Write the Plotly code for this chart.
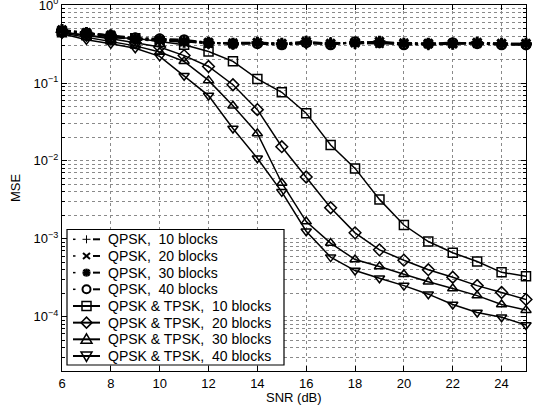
import plotly.graph_objects as go

snr = list(range(6, 26))

qpsk_10 = [0.47, 0.43, 0.40, 0.36, 0.35, 0.34, 0.33, 0.32, 0.33, 0.32, 0.32, 0.33, 0.32, 0.33, 0.32, 0.31, 0.32, 0.33, 0.32, 0.31]
qpsk_20 = [0.48, 0.44, 0.40, 0.37, 0.36, 0.35, 0.32, 0.33, 0.33, 0.31, 0.33, 0.32, 0.33, 0.32, 0.33, 0.32, 0.32, 0.32, 0.32, 0.32]
qpsk_30 = [0.48, 0.44, 0.41, 0.37, 0.36, 0.34, 0.33, 0.32, 0.33, 0.32, 0.34, 0.32, 0.33, 0.34, 0.32, 0.32, 0.32, 0.33, 0.32, 0.32]
qpsk_40 = [0.47, 0.44, 0.41, 0.38, 0.37, 0.36, 0.33, 0.32, 0.32, 0.31, 0.33, 0.31, 0.34, 0.33, 0.31, 0.32, 0.33, 0.32, 0.31, 0.31]

qt_10 = [0.45, 0.41, 0.38, 0.375, 0.34, 0.31, 0.254, 0.19, 0.113, 0.076, 0.041, 0.016, 0.008, 0.0032, 0.0015, 0.00092, 0.00066, 0.00051, 0.00037, 0.00033]
qt_20 = [0.45, 0.41, 0.37, 0.33, 0.29, 0.225, 0.163, 0.095, 0.0455, 0.0152, 0.0062, 0.0025, 0.00119, 0.00072, 0.00053, 0.00040, 0.00032, 0.00025, 0.000204, 0.000166]
qt_30 = [0.44, 0.39, 0.34, 0.30, 0.25, 0.19, 0.108, 0.051, 0.0225, 0.0052, 0.00166, 0.00088, 0.00054, 0.00044, 0.00035, 0.00028, 0.00023, 0.000186, 0.000143, 0.000121]
qt_40 = [0.43, 0.36, 0.32, 0.28, 0.22, 0.124, 0.069, 0.026, 0.0108, 0.0040, 0.00125, 0.00058, 0.00039, 0.00031, 0.00025, 0.000194, 0.000143, 0.000113, 0.000098, 0.000078]

names = [
    "QPSK,\u00a0 10 blocks", "QPSK,\u00a0 20 blocks", "QPSK,\u00a0 30 blocks", "QPSK,\u00a0 40 blocks",
    "QPSK & TPSK,\u00a0 10 blocks", "QPSK & TPSK,\u00a0 20 blocks", "QPSK & TPSK,\u00a0 30 blocks", "QPSK & TPSK,\u00a0 40 blocks",
]
series = [qpsk_10, qpsk_20, qpsk_30, qpsk_40, qt_10, qt_20, qt_30, qt_40]
symbols = ["cross-thin-open", "x-thin-open", "asterisk-open", "circle-open",
           "square-open", "diamond-open", "triangle-up-open", "triangle-down-open"]
kinds = ["plus", "x", "star", "circle", "square", "diamond", "tri_up", "tri_down"]

x_title = "SNR (dB)"
y_title = "MSE"

# figure geometry (pixels)
W, H = 543, 412
ML, MR, MT, MB = 62, 17, 5, 41
PW, PH = W - ML - MR, H - MT - MB

fig = go.Figure()
for i, (nm, ys, sym) in enumerate(zip(names, series, symbols)):
    dashed = i < 4
    fig.add_trace(go.Scatter(
        x=snr, y=ys, name=nm, mode="lines+markers", showlegend=False, cliponaxis=False,
        line=dict(color="black", width=2 if dashed else 1.5, dash="dashdot" if dashed else "solid"),
        marker=dict(symbol=sym, size=[8, 8, 10, 9][i] if dashed else 9, color="black",
                    line=dict(color="black", width=3 if i == 2 else (2 if dashed else 1.5))),
    ))

# ---- legend drawn as a boxed key (pixel layout converted to paper units) ----
def fx(px):
    return (px - ML) / PW


def fy(py):
    return (MT + PH - py) / PH


shapes = []
annotations = []
box = (67, 229.5, 284, 365)
shapes.append(dict(type="rect", xref="paper", yref="paper",
                   x0=fx(box[0]), x1=fx(box[2]), y0=fy(box[3]), y1=fy(box[1]),
                   fillcolor="white", line=dict(color="black", width=1.2), layer="above"))


def seg(x0, y0, x1, y1, w=1.5):
    shapes.append(dict(type="line", xref="paper", yref="paper",
                       x0=fx(x0), y0=fy(y0), x1=fx(x1), y1=fy(y1),
                       line=dict(color="black", width=w), layer="above"))


def poly(pts, w=1.5):
    path = "M " + " L ".join(f"{fx(a):.5f},{fy(b):.5f}" for a, b in pts) + " Z"
    shapes.append(dict(type="path", xref="paper", yref="paper", path=path,
                       fillcolor="rgba(0,0,0,0)", line=dict(color="black", width=w), layer="above"))


row0, rstep = 239.3, 16.67
lx0, lx1, mx, tx = 73, 100, 86.5, 106
for i, (nm, kind) in enumerate(zip(names, kinds)):
    cy = row0 + i * rstep
    if i < 4:
        seg(73, cy, 75.5, cy, 1.5)
        seg(93, cy, 100, cy, 2)
    else:
        seg(lx0, cy, lx1, cy, 2)
    if kind == "plus":
        seg(mx - 4, cy, mx + 4, cy, 1)
        seg(mx, cy - 4, mx, cy + 4, 1)
    elif kind == "x":
        seg(mx - 3.5, cy - 3, mx + 3.5, cy + 3, 2)
        seg(mx - 3.5, cy + 3, mx + 3.5, cy - 3, 2)
    elif kind == "star":
        seg(mx - 4, cy, mx + 4, cy, 2.5)
        seg(mx, cy - 4, mx, cy + 4, 2.5)
        seg(mx - 3, cy - 3, mx + 3, cy + 3, 2.5)
        seg(mx - 3, cy + 3, mx + 3, cy - 3, 2.5)
    elif kind == "circle":
        shapes.append(dict(type="circle", xref="paper", yref="paper",
                           x0=fx(mx - 4), x1=fx(mx + 4), y0=fy(cy + 4), y1=fy(cy - 4),
                           fillcolor="white", line=dict(color="black", width=2), layer="above"))
    elif kind == "square":
        poly([(mx - 4.5, cy - 4.5), (mx + 4.5, cy - 4.5), (mx + 4.5, cy + 4.5), (mx - 4.5, cy + 4.5)])
    elif kind == "diamond":
        poly([(mx, cy - 5.5), (mx + 5.5, cy), (mx, cy + 5.5), (mx - 5.5, cy)])
    elif kind == "tri_up":
        poly([(mx, cy - 5.5), (mx + 5.5, cy + 4), (mx - 5.5, cy + 4)])
    elif kind == "tri_down":
        poly([(mx, cy + 5.5), (mx + 5.5, cy - 4), (mx - 5.5, cy - 4)])
    annotations.append(dict(text=nm, xref="paper", yref="paper", x=fx(tx), y=fy(cy),
                            xanchor="left", yanchor="middle", showarrow=False,
                            font=dict(size=14, color="black")))

# axis titles placed as text at fixed pixel positions
annotations.append(dict(text=x_title, xref="paper", yref="paper", x=0.5, y=fy(397.5),
                        xanchor="center", yanchor="middle", showarrow=False,
                        font=dict(size=13, color="black")))
annotations.append(dict(text=y_title, xref="paper", yref="paper", x=fx(15), y=0.5,
                        xanchor="center", yanchor="middle", showarrow=False, textangle=-90,
                        font=dict(size=13, color="black")))

tickvals = [1e-4, 1e-3, 1e-2, 1e-1, 1]
ticktext = ["10<sup>−4</sup>", "10<sup>−3</sup>", "10<sup>−2</sup>", "10<sup>−1</sup>", "10<sup>0</sup>"]
minor_vals = [k * 10 ** e for e in range(-5, 0) for k in range(2, 10) if k * 10 ** e >= 2e-5]

grid_col = "#8a8a8a"
fig.update_layout(
    width=W, height=H,
    margin=dict(l=ML, r=MR, t=MT, b=MB),
    paper_bgcolor="white", plot_bgcolor="white",
    font=dict(family="Liberation Sans, Arial, sans-serif", size=13, color="black"),
    showlegend=False,
    shapes=shapes, annotations=annotations,
    xaxis=dict(
        range=[6, 25], tickmode="linear", tick0=6, dtick=2, automargin=False,
        showline=True, linecolor="black", linewidth=1, mirror="ticks",
        ticks="inside", ticklen=5, tickcolor="black",
        showgrid=True, gridcolor=grid_col, griddash="dot", gridwidth=1,
        zeroline=False, ticklabeloverflow="allow",
    ),
    yaxis=dict(
        type="log", range=[-4.699, 0.002], automargin=False,
        tickmode="array", tickvals=tickvals, ticktext=ticktext,
        showline=True, linecolor="black", linewidth=1, mirror="ticks",
        ticks="inside", ticklen=5, tickcolor="black",
        showgrid=True, gridcolor=grid_col, griddash="dot", gridwidth=1,
        minor=dict(tickmode="array", tickvals=minor_vals, ticks="inside", ticklen=3,
                   tickcolor="black", showgrid=True, gridcolor=grid_col, griddash="dot", gridwidth=1),
        zeroline=False, ticklabeloverflow="allow",
    ),
)

fig.write_html("out.html", config={"displayModeBar": False},
               post_script="document.body.style.margin='0';document.body.style.overflow='hidden';")
